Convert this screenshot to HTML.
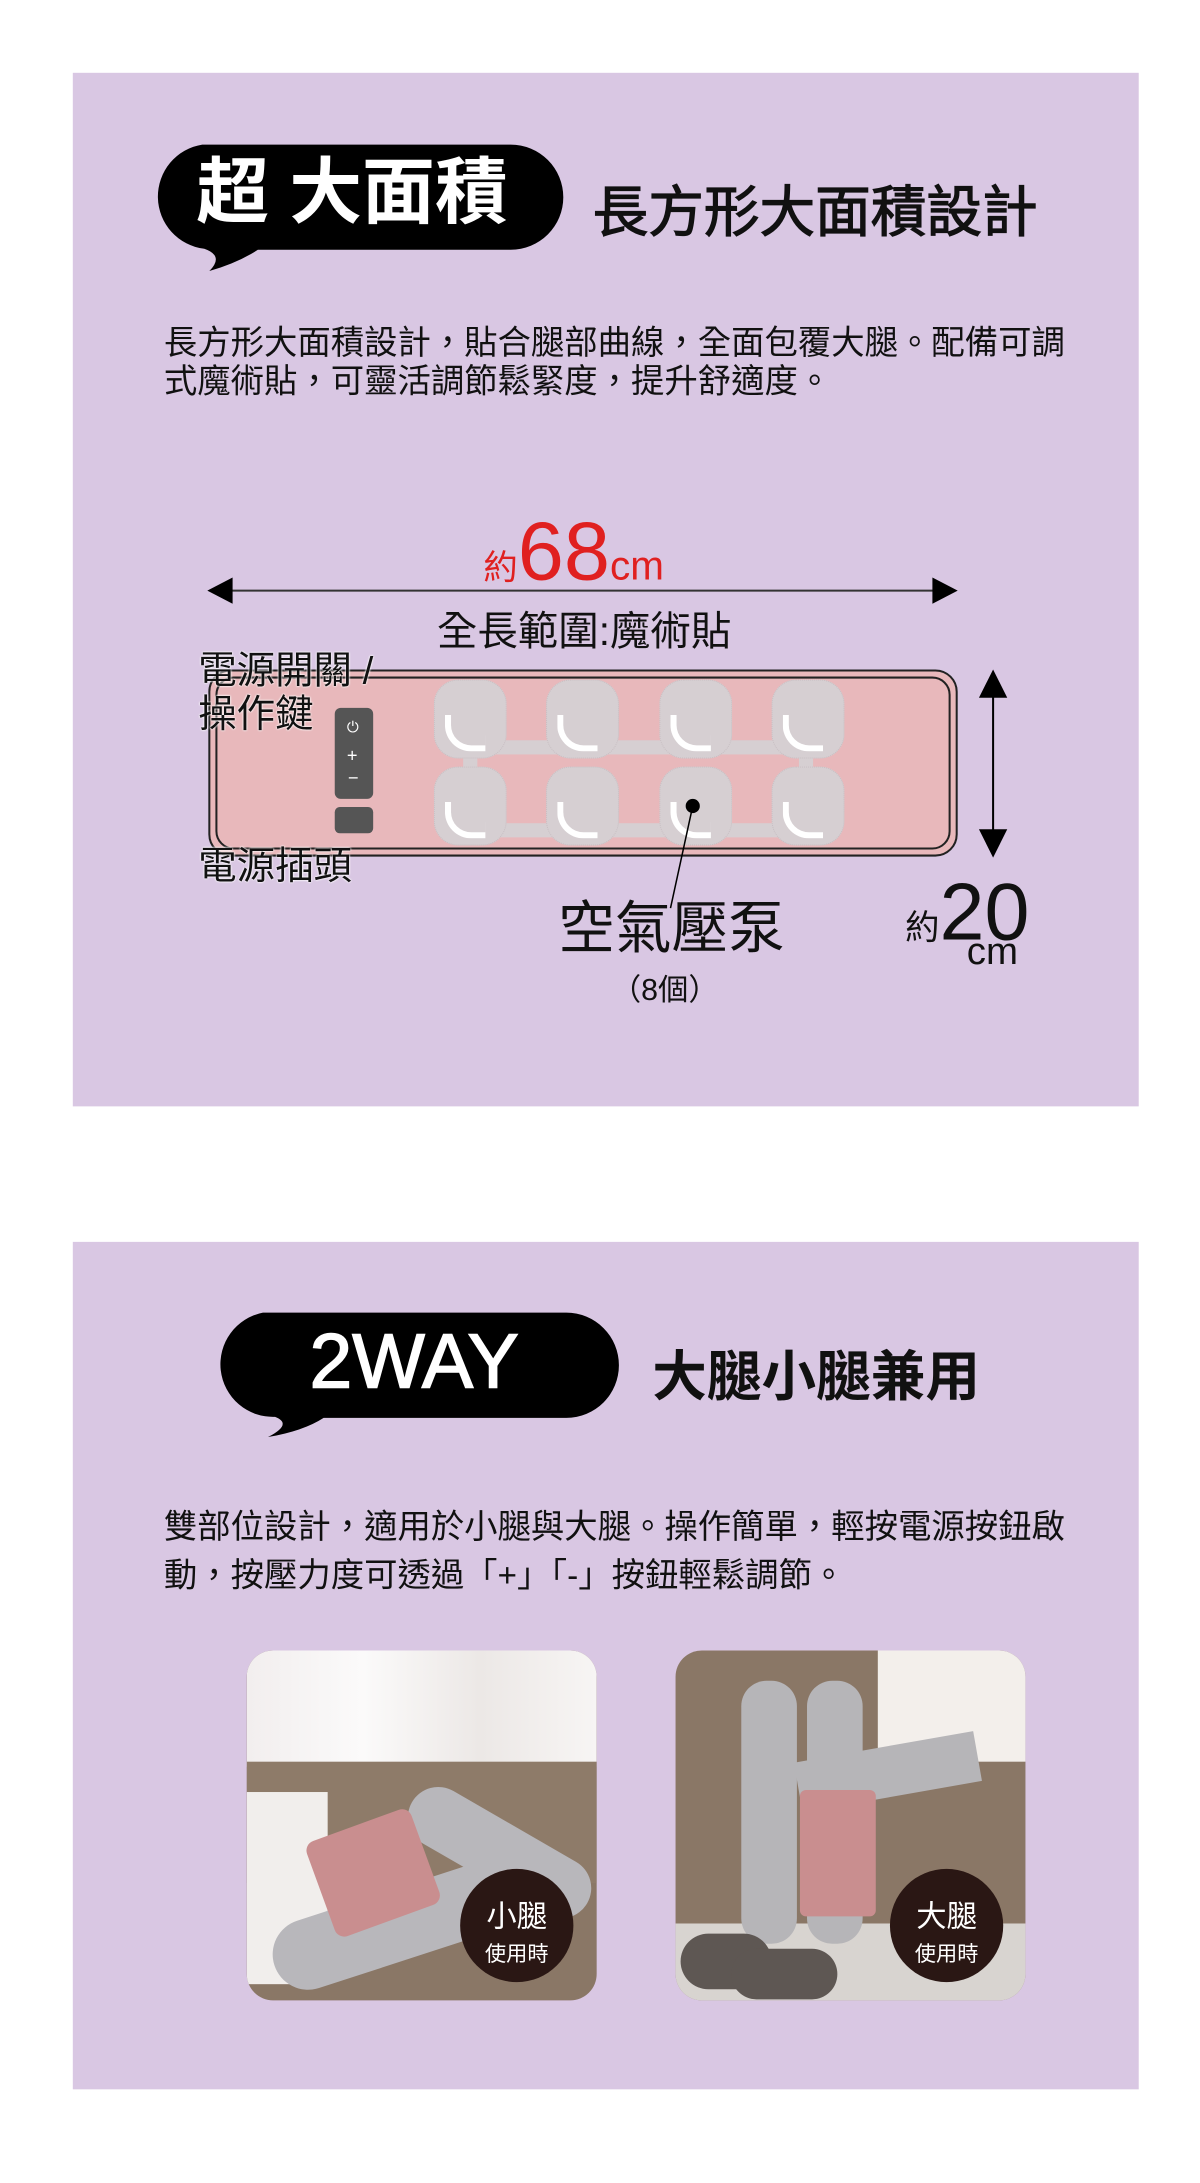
<!DOCTYPE html>
<html><head><meta charset="utf-8">
<style>
*{margin:0;padding:0;box-sizing:border-box}
body{width:1200px;height:2159px;background:#fff;position:relative;overflow:hidden;font-family:"Liberation Sans","Noto Sans CJK TC",sans-serif;color:#111}
#w{position:absolute;left:0;top:0;width:1200px;height:2159px;transform:scale(1.0113);transform-origin:0 0}
.abs{position:absolute}
.panel{position:absolute;left:72px;width:1054px;background:#d9c7e3}
.t{position:absolute;white-space:nowrap;line-height:1}
.pump{position:absolute;width:72px;height:78px;border-radius:24px;background:#d6cfd2;border:1px dotted #c8bfc3}
.pump::after{content:"";position:absolute;left:10px;top:34px;width:34px;height:30px;border-left:6px solid #fff;border-bottom:6px solid #fff;border-radius:0 0 0 26px}
.bar{position:absolute;background:#d6cfd2}
.circ{position:absolute;width:112px;height:112px;border-radius:50%;background:#2a1714;color:#fff;text-align:center}
.lb{text-shadow:0 0 2px #fff,0 0 2px #fff;color:#111}
</style></head><body><div id="w">

<div class="panel" style="top:72px;height:1022px"></div>
<div class="panel" style="top:1228px;height:838px"></div>

<!-- bubble 1 -->
<svg class="abs" style="left:140px;top:135px" width="440" height="140">
<path d="M60 8 H365 A52 52 0 0 1 365 112 H115 Q95 125 67 133 Q82 118 62 111 A52 52 0 0 1 60 8Z" fill="#000"/>
</svg>
<div class="t" style="left:194px;top:155px;font-size:72px;font-weight:bold;color:#fff">超 大面積</div>
<div class="t" style="left:586px;top:183px;font-size:55px;-webkit-text-stroke:1.2px #111">長方形大面積設計</div>
<div class="t" style="left:162px;top:320px;font-size:33px;line-height:38px">長方形大面積設計，貼合腿部曲線，全面包覆大腿。配備可調<br>式魔術貼，可靈活調節鬆緊度，提升舒適度。</div>

<!-- 68cm -->
<div class="t" style="left:478px;top:505px;color:#e02020"><span style="font-size:34px">約</span><span style="font-size:82px">68</span><span style="font-size:40px">cm</span></div>
<svg class="abs" style="left:200px;top:568px" width="752" height="32">
<line x1="20" y1="16" x2="730" y2="16" stroke="#333" stroke-width="2"/>
<polygon points="5,16 30,3 30,29" fill="#000"/><polygon points="747,16 722,3 722,29" fill="#000"/>
</svg>
<div class="t" style="left:432px;top:605px;font-size:40px">全長範圍:魔術貼</div>

<!-- device -->
<div class="abs" style="left:206px;top:662px;width:741px;height:185px;border:2px solid #222;border-radius:22px;background:#e8b8bb"></div>
<div class="abs" style="left:213px;top:669px;width:727px;height:171px;border:2px solid #222;border-radius:18px"></div>
<div class="abs" style="left:331px;top:700px;width:38px;height:90px;background:#555;border-radius:6px"></div>
<div class="t" style="left:343px;top:712px;color:#fff;font-size:15px">⏻</div>
<div class="t" style="left:343px;top:738px;color:#fff;font-size:18px">+</div>
<div class="t" style="left:344px;top:760px;color:#fff;font-size:18px">−</div>
<div class="abs" style="left:331px;top:798px;width:38px;height:26px;background:#555;border-radius:5px"></div>
<div class="bar" style="left:480px;top:732px;width:320px;height:14px"></div>
<div class="bar" style="left:480px;top:814px;width:320px;height:14px"></div>
<div class="bar" style="left:458px;top:740px;width:14px;height:80px"></div>
<div class="bar" style="left:790px;top:740px;width:14px;height:80px"></div>
<div class="pump" style="left:429px;top:672px"></div>
<div class="pump" style="left:540px;top:672px"></div>
<div class="pump" style="left:652px;top:672px"></div>
<div class="pump" style="left:763px;top:672px"></div>
<div class="pump" style="left:429px;top:758px"></div>
<div class="pump" style="left:540px;top:758px"></div>
<div class="pump" style="left:652px;top:758px"></div>
<div class="pump" style="left:763px;top:758px"></div>
<svg class="abs" style="left:0;top:0" width="1200" height="1000">
<circle cx="685" cy="797" r="7" fill="#000"/>
<line x1="685" y1="797" x2="663" y2="898" stroke="#000" stroke-width="1.5"/>
<line x1="982" y1="670" x2="982" y2="840" stroke="#000" stroke-width="2"/>
<polygon points="982,662 968,690 996,690" fill="#000"/><polygon points="982,848 968,820 996,820" fill="#000"/>
</svg>
<div class="t lb" style="left:196px;top:645px;font-size:38px">電源開關 /</div>
<div class="t lb" style="left:196px;top:688px;font-size:38px">操作鍵</div>
<div class="t lb" style="left:196px;top:838px;font-size:38px">電源插頭</div>
<div class="t" style="left:552px;top:890px;font-size:56px">空氣壓泵</div>
<div class="t" style="left:604px;top:965px;font-size:30px">（8個）</div>
<div class="t" style="left:895px;top:862px"><span style="font-size:34px">約</span><span style="font-size:80px">20</span></div>
<div class="t" style="left:956px;top:922px;font-size:38px">cm</div>

<!-- bubble 2 -->
<svg class="abs" style="left:200px;top:1290px" width="430" height="140">
<path d="M60 8 H360 A52 52 0 0 1 360 112 H120 Q100 125 65 131 Q90 118 72 111 A52 52 0 0 1 60 8Z" fill="#000"/>
</svg>
<div class="t" style="left:306px;top:1309px;font-size:76px;color:#fff;-webkit-text-stroke:1.5px #fff">2WAY</div>
<div class="t" style="left:645px;top:1335px;font-size:54px;font-weight:bold">大腿小腿兼用</div>
<div class="t" style="left:162px;top:1486px;font-size:33px;line-height:48px">雙部位設計，適用於小腿與大腿。操作簡單，輕按電源按鈕啟<br>動，按壓力度可透過「+」「-」按鈕輕鬆調節。</div>

<!-- photos -->
<div class="abs" style="left:244px;top:1632px;width:346px;height:346px;border-radius:26px;overflow:hidden;background:#8a7766">
 <div class="abs" style="left:0;top:0;width:346px;height:115px;background:linear-gradient(90deg,#f2eeee,#fbfafa,#ece8e6,#f7f5f4)"></div>
 <div class="abs" style="left:0;top:110px;width:346px;height:120px;background:#8e7b69"></div>
 <div class="abs" style="left:0;top:140px;width:80px;height:190px;background:#f1eeec"></div>
 <div class="abs" style="left:20px;top:230px;width:300px;height:70px;background:#b8b7bb;transform:rotate(-18deg);border-radius:35px"></div>
 <div class="abs" style="left:150px;top:170px;width:200px;height:60px;background:#b8b7bb;transform:rotate(30deg);border-radius:30px"></div>
 <div class="abs" style="left:70px;top:170px;width:110px;height:100px;background:#c98e8f;transform:rotate(-20deg);border-radius:10px"></div>
</div>
<div class="abs" style="left:668px;top:1632px;width:346px;height:346px;border-radius:26px;overflow:hidden;background:#8a7766">
 <div class="abs" style="left:0;top:270px;width:346px;height:80px;background:#d8d4d0"></div>
 <div class="abs" style="left:200px;top:0;width:146px;height:110px;background:#f3efeb"></div>
 <div class="abs" style="left:65px;top:30px;width:55px;height:260px;background:#b6b5b8;border-radius:25px"></div>
 <div class="abs" style="left:130px;top:30px;width:55px;height:260px;background:#b6b5b8;border-radius:25px"></div>
 <div class="abs" style="left:120px;top:95px;width:180px;height:50px;background:#b6b5b8;transform:rotate(-10deg)"></div>
 <div class="abs" style="left:123px;top:138px;width:75px;height:125px;background:#c98e8f;border-radius:6px"></div>
 <div class="abs" style="left:5px;top:280px;width:90px;height:55px;background:#5e5753;border-radius:30px"></div>
 <div class="abs" style="left:55px;top:295px;width:105px;height:50px;background:#5e5753;border-radius:30px"></div>
</div>
<div class="circ" style="left:455px;top:1848px"><div style="font-size:30px;margin-top:22px">小腿</div><div style="font-size:21px;margin-top:2px">使用時</div></div>
<div class="circ" style="left:880px;top:1848px"><div style="font-size:30px;margin-top:22px">大腿</div><div style="font-size:21px;margin-top:2px">使用時</div></div>

</div></body></html>
